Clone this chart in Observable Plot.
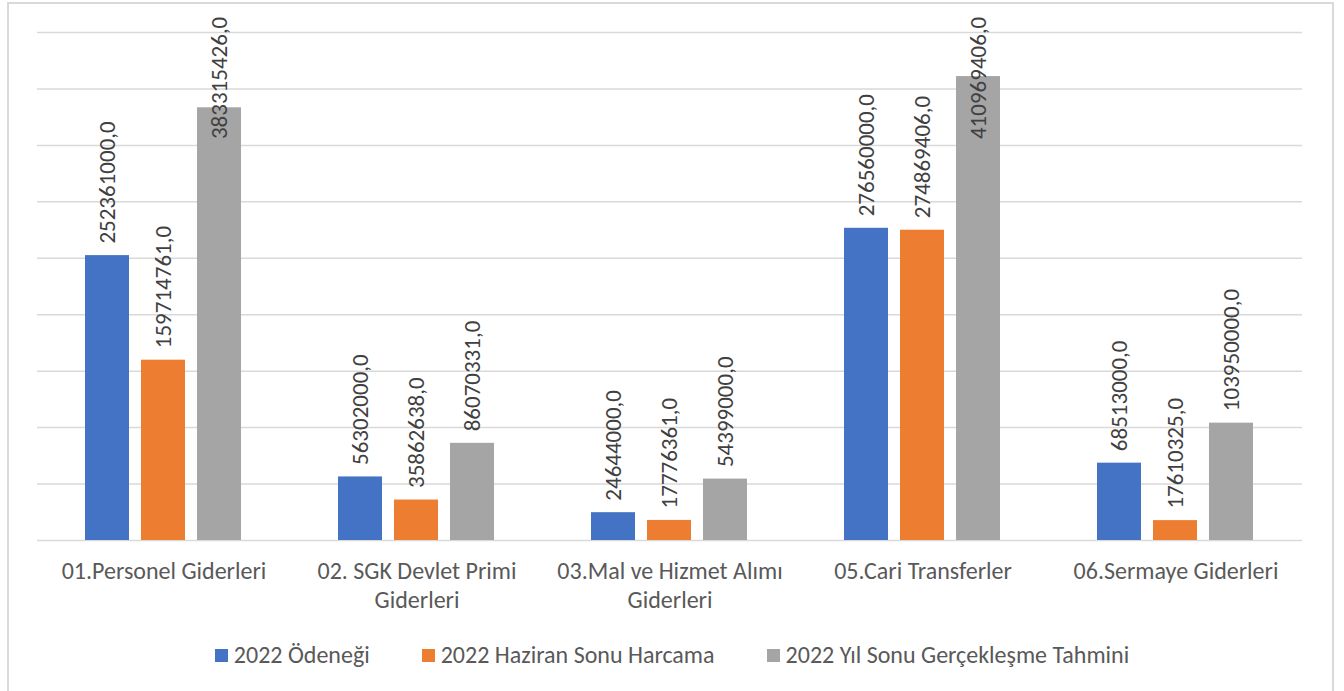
<!DOCTYPE html>
<html>
<head>
<meta charset="utf-8">
<script src="https://cdn.jsdelivr.net/npm/d3@7"></script>
<script src="https://cdn.jsdelivr.net/npm/@observablehq/plot@0.6"></script>
<style>
  html, body { margin: 0; padding: 0; background: #fff; overflow: hidden; }
  #wrap { position: relative; width: 1344px; height: 691px; font-family: Carlito, Lato, sans-serif; }
  #chart { position: absolute; left: 0; top: 0; }
  #legend { position: absolute; left: 0; top: 640px; width: 1344px; display: flex; justify-content: center; gap: 52px; font-size: 24px; line-height: 30px; color: #595959; }
  #legend .item { display: flex; align-items: center; }
  #legend .sw { width: 13px; height: 13px; margin-right: 6px; }
  #border { position: absolute; left: 7px; top: 2px; width: 1323px; height: 740px; border: 2px solid #d9d9d9; pointer-events: none; }
</style>
</head>
<body>
<div id="wrap">
  <div id="chart"></div>
  <div id="legend"></div>
  <div id="border"></div>
</div>
<script>
const categories = ["01.Personel Giderleri", "02. SGK Devlet Primi Giderleri", "03.Mal ve Hizmet Alımı Giderleri", "05.Cari Transferler", "06.Sermaye Giderleri"];
const categoryLabels = ["01.Personel Giderleri", "02. SGK Devlet Primi\nGiderleri", "03.Mal ve Hizmet Alımı\nGiderleri", "05.Cari Transferler", "06.Sermaye Giderleri"];
const series = ["2022 Ödeneği", "2022 Haziran Sonu Harcama", "2022 Yıl Sonu Gerçekleşme Tahmini"];
const odenek = [252361000, 56302000, 24644000, 276560000, 68513000];
const haziranSonu = [159714761, 35862638, 17776361, 274869406, 17610325];
const yilSonuTahmin = [383315426, 86070331, 54399000, 410969406, 103950000];
const gridTicks = [0, 50e6, 100e6, 150e6, 200e6, 250e6, 300e6, 350e6, 400e6, 450e6];
const colors = ["#4472C4", "#ED7D31", "#A5A5A5"];
const labelCap = 345e6;

const seriesValues = [odenek, haziranSonu, yilSonuTahmin];
const data = [];
categories.forEach((c, i) => {
  series.forEach((s, j) => {
    data.push({category: c, series: s, value: seriesValues[j][i]});
  });
});
const fmt = v => v.toFixed(1).replace(".", ",");

const chart = Plot.plot({
  width: 1344,
  height: 620,
  marginLeft: 37,
  marginRight: 42,
  marginTop: 32,
  marginBottom: 80,
  style: {fontFamily: "Carlito, Lato, sans-serif", background: "transparent"},
  fx: {domain: categories, padding: 0, label: null},
  x: {domain: series, paddingInner: 0.2105, paddingOuter: 0.8246, axis: null},
  y: {domain: [0, 450e6], axis: null},
  color: {domain: series, range: colors},
  marks: [
    Plot.ruleY(gridTicks, {stroke: "#d9d9d9", strokeWidth: 1.5}),
    Plot.barY(data, {fx: "category", x: "series", y: "value", fill: "series"}),
    Plot.text(data, {
      fx: "category", x: "series",
      y: d => Math.min(d.value, labelCap),
      text: d => fmt(d.value),
      rotate: -90, textAnchor: "start", dy: -12,
      fill: "#404040", fontSize: 23
    }),
    Plot.axisFx({
      anchor: "bottom", tickSize: 0, tickPadding: 19,
      tickFormat: d => categoryLabels[categories.indexOf(d)],
      fontSize: 24, fill: "#595959", lineHeight: 1.17, label: null
    })
  ]
});
document.getElementById("chart").appendChild(chart);

const legend = document.getElementById("legend");
series.forEach((s, j) => {
  const item = document.createElement("div");
  item.className = "item";
  const sw = document.createElement("span");
  sw.className = "sw";
  sw.style.background = colors[j];
  const t = document.createElement("span");
  t.textContent = s;
  item.appendChild(sw);
  item.appendChild(t);
  legend.appendChild(item);
});
</script>
</body>
</html>
